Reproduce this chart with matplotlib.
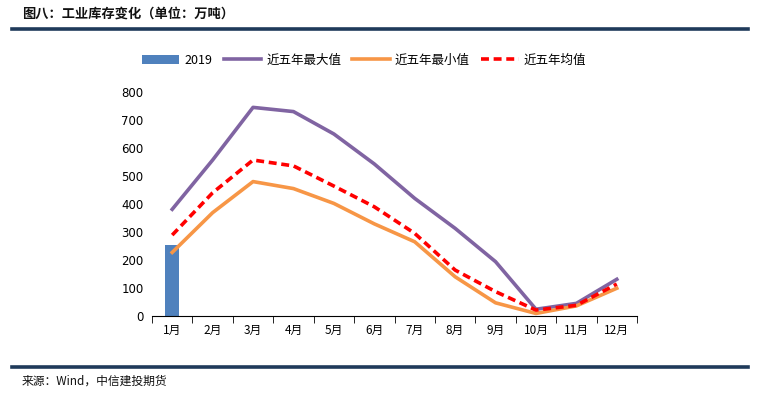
import numpy as np
import matplotlib
matplotlib.use('Agg')
import matplotlib.pyplot as plt
from matplotlib.lines import Line2D

plt.rcParams['font.family'] = ['Noto Sans CJK SC', 'DejaVu Sans']

months = ['1月', '2月', '3月', '4月', '5月', '6月', '7月', '8月', '9月', '10月', '11月', '12月']
val_2019 = [252]
max5 = [380, 556, 744, 729, 649, 542, 419, 312, 193, 23, 44, 130]
min5 = [226, 368, 479, 454, 401, 328, 264, 139, 46, 8, 35, 98]
avg5 = [288, 439, 556, 535, 463, 389, 294, 163, 86, 20, 37, 113]

fig = plt.figure(figsize=(7.76, 4.08), dpi=100)

# title and rules
fig.text(22 / 776, 1 - 14 / 408, '图八：工业库存变化（单位：万吨）', fontsize=9.5,
         fontweight='bold', va='center', ha='left', color='#111111')
fig.add_artist(Line2D([12 / 776, 748 / 776], [1 - 29 / 408] * 2, color='#1f3a5a', lw=2.6))
fig.add_artist(Line2D([12 / 776, 748 / 776], [1 - 367 / 408] * 2, color='#1f3a5a', lw=2.6))
fig.text(22 / 776, 1 - 381 / 408, '来源：Wind，中信建投期货', fontsize=8.5,
         style='italic', va='center', ha='left', color='#111111')

ax = fig.add_axes([152 / 776, 1 - 315.7 / 408, 485 / 776, 224 / 408])
x = np.arange(len(months))
b = ax.bar(x[:len(val_2019)], val_2019, width=0.35, color='#4F81BD', label='2019', zorder=1)
l1, = ax.plot(x, max5, color='#8064A2', lw=2.6, label='近五年最大值', zorder=2)
l2, = ax.plot(x, min5, color='#F79646', lw=2.6, label='近五年最小值', zorder=2)
l3, = ax.plot(x, avg5, color='#FF0000', lw=2.6, ls=(0, (2.2, 1.3)), label='近五年均值', zorder=3)

ax.set_xlim(-0.5, 11.5)
ax.set_ylim(0, 800)
ax.set_yticks(range(0, 801, 100))
ax.set_xticks(x)
ax.set_xticklabels(months)
ax.set_xticks(np.arange(-0.5, 12, 1), minor=True)
ax.tick_params(axis='x', which='major', length=0, pad=6, labelsize=8.5)
ax.tick_params(axis='x', which='minor', length=5, direction='out', color='black')
ax.tick_params(axis='y', length=0, labelsize=8.5, pad=6)
for s in ['top', 'right', 'left']:
    ax.spines[s].set_visible(False)
ax.spines['bottom'].set_color('black')
for lab in ax.get_yticklabels():
    lab.set_family('DejaVu Sans')

ax.legend([b, l1, l2, l3], ['2019', '近五年最大值', '近五年最小值', '近五年均值'],
          loc='center', bbox_to_anchor=(364 / 776, 1 - 60 / 408), bbox_transform=fig.transFigure,
          ncol=4, frameon=False, fontsize=9, handlelength=3.0, columnspacing=0.9,
          handletextpad=0.4)

fig.savefig('out.png', dpi=100)
